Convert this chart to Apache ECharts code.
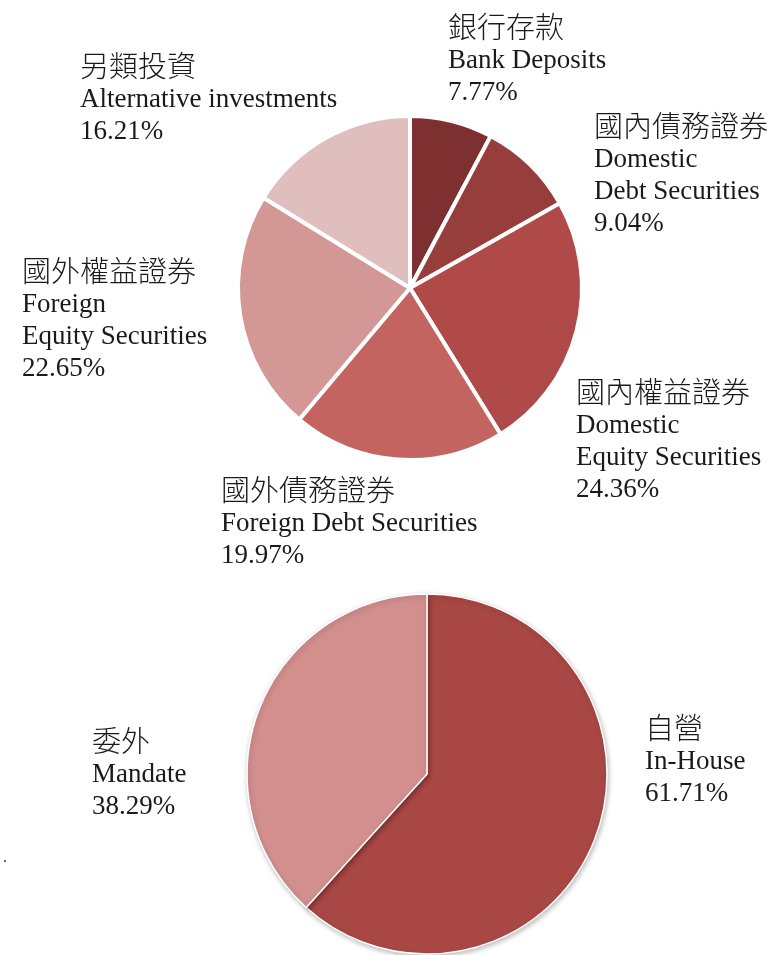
<!DOCTYPE html>
<html>
<head>
<meta charset="utf-8">
<script src="https://cdn.jsdelivr.net/npm/echarts@6/dist/echarts.min.js"></script>
<style>
  html, body { margin: 0; padding: 0; background: #fff; }
  #main { width: 776px; height: 955px; }
</style>
</head>
<body>
<div id="main"></div>
<script>
// 資產配置 (上) 與 操作方式 (下)
var assetCn = ['銀行存款', '國內債務證券', '國內權益證券', '國外債務證券', '國外權益證券', '另類投資'];
var assetEn = ['Bank Deposits', 'Domestic\nDebt Securities', 'Domestic\nEquity Securities',
               'Foreign Debt Securities', 'Foreign\nEquity Securities', 'Alternative investments'];
var assetValues = [7.77, 9.04, 24.36, 19.97, 22.65, 16.21];
var assetColors = ['#7e3031', '#973e3c', '#af4a48', '#c46461', '#d39796', '#e1bebe'];

var mgmtCn = ['自營', '委外'];
var mgmtEn = ['In-House', 'Mandate'];
var mgmtValues = [61.71, 38.29];
var mgmtColors = ['#a94745', '#d28f8e'];

// label top-left corners
var assetLabelPos = [[448, 9], [594, 108], [576, 374], [221, 472], [22, 253], [80, 48]];
var mgmtLabelPos = [[645, 710], [92, 723]];

function buildData(cn, en, vals, colors) {
    return vals.map(function (v, i) {
        return { value: v, cn: cn[i], en: en[i], itemStyle: { color: colors[i] } };
    });
}

function fmt(p) {
    var lines = ['{cn|' + p.data.cn + '}'];
    p.data.en.split('\n').forEach(function (s) { lines.push('{en|' + s + '}'); });
    lines.push('{en|' + p.value.toFixed(2) + '%}');
    return lines.join('\n');
}

var rich = {
    cn: { fontFamily: 'Noto Sans CJK TC', fontSize: 29, lineHeight: 36, color: '#1a1a1a', fontWeight: 300 },
    en: { fontFamily: 'Liberation Serif', fontSize: 27, lineHeight: 32, color: '#1a1a1a' }
};

var labelOpt = { show: true, position: 'outside', formatter: fmt, rich: rich, overflow: 'none' };

var myChart = echarts.init(document.getElementById('main'));

var option = {
    backgroundColor: '#fff',
    animation: false,
    graphic: [{
        type: 'text', left: 3, top: 850,
        style: { text: '.', font: '16px Liberation Serif', fill: '#333' }
    }],
    series: [
        {
            type: 'pie',
            center: [410, 288],
            radius: 172,
            startAngle: 90,
            data: buildData(assetCn, assetEn, assetValues, assetColors),
            itemStyle: { borderColor: '#fff', borderWidth: 4 },
            label: labelOpt,
            labelLine: { show: false },
            labelLayout: function (params) {
                var pos = assetLabelPos[params.dataIndex];
                return { x: pos[0], y: pos[1], align: 'left', verticalAlign: 'top' };
            },
            emphasis: { disabled: true }
        },
        {
            type: 'pie',
            center: [427, 774],
            radius: 180,
            startAngle: 90,
            data: buildData(mgmtCn, mgmtEn, mgmtValues, mgmtColors),
            itemStyle: {
                borderColor: '#fff', borderWidth: 1.5,
                shadowBlur: 5, shadowColor: 'rgba(0,0,0,0.25)', shadowOffsetX: 1, shadowOffsetY: 2
            },
            label: labelOpt,
            labelLine: { show: false },
            labelLayout: function (params) {
                var pos = mgmtLabelPos[params.dataIndex];
                return { x: pos[0], y: pos[1], align: 'left', verticalAlign: 'top' };
            },
            emphasis: { disabled: true }
        }
    ]
};

myChart.setOption(option);
</script>
</body>
</html>
